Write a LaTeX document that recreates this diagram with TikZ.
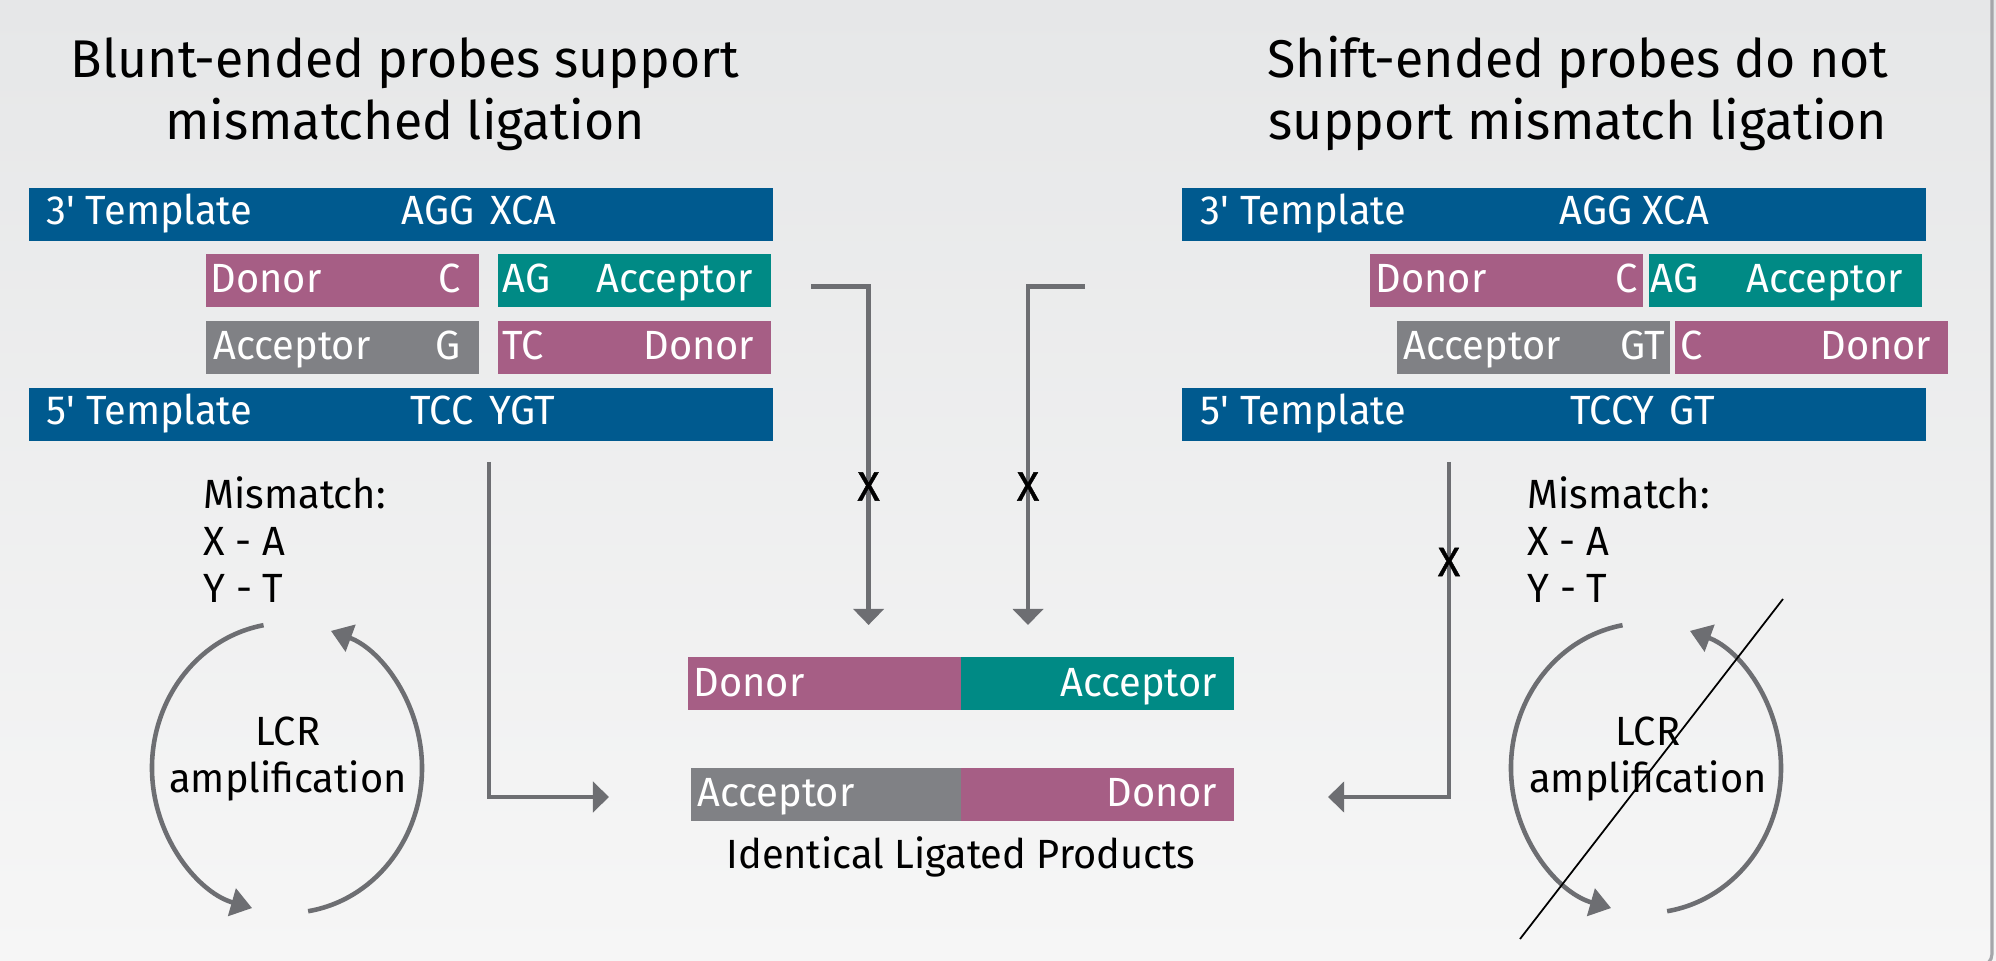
\documentclass[tikz,border=0pt]{standalone}
\usepackage{fontspec}
\setmainfont[FakeStretch=0.975]{Fira Sans}
\newfontfamily\heavyx[FakeBold=1]{Fira Sans}
\usetikzlibrary{arrows.meta}

\definecolor{tplblue}{RGB}{0,90,143}
\definecolor{donmag}{RGB}{166,94,133}
\definecolor{accteal}{RGB}{0,138,133}
\definecolor{accgray}{RGB}{128,129,133}
\definecolor{arrgray}{RGB}{109,110,114}
\definecolor{bgtop}{RGB}{230,231,232}
\definecolor{bgbot}{RGB}{246,246,246}
\definecolor{framegray}{RGB}{165,166,170}

\newcommand{\q}{\textquotesingle}

\begin{document}
\begin{tikzpicture}[x=0.01cm,y=-0.01cm,
  bar/.style={rectangle,inner sep=0pt,minimum height=0.53cm,anchor=west},
  lbl/.style={text=white,inner sep=0pt,font=\fontsize{11.6}{14}\selectfont},
  txt/.style={inner sep=0pt,font=\fontsize{11.6}{13.5}\selectfont},
  ttl/.style={inner sep=0pt,align=center,font=\fontsize{15.1}{17.9}\selectfont},
  flow/.style={arrgray,line width=1.28pt,-{Triangle[length=0.16cm,width=0.3cm]}},
  cyc/.style={arrgray,line width=1.3pt,-{Triangle[length=0.21cm,width=0.28cm]}},
  xmark/.style={inner sep=0pt,font=\heavyx\fontsize{11.6}{14}\selectfont}]

\useasboundingbox (0,0) rectangle (1996,961);
\shade[top color=bgtop,bottom color=bgbot] (0,0) rectangle (1996,961);
\draw[framegray,line width=0.9pt,rounded corners=0.12cm] (1992,-10) -- (1992,966) -- (1800,966);

\node[ttl,anchor=base] (h0) at (405,140) {Blunt-ended probes support\\mismatched ligation};
\node[ttl,anchor=base] (h1) at (1578,140) {Shift-ended probes do not\\support mismatch ligation};

\node[bar,fill=tplblue,minimum width=7.44cm] (b0) at (28,214.5) {};
\node[bar,fill=donmag,minimum width=2.73cm] (b1) at (205,280.5) {};
\node[bar,fill=accteal,minimum width=2.73cm] (b2) at (497,280.5) {};
\node[bar,fill=accgray,minimum width=2.73cm] (b3) at (205,347.5) {};
\node[bar,fill=donmag,minimum width=2.73cm] (b4) at (497,347.5) {};
\node[bar,fill=tplblue,minimum width=7.44cm] (b5) at (28,414.5) {};

\node[lbl,anchor=base west] (b0a) at (46,225) {3\q{} Template};
\node[lbl,anchor=base west] (b0b) at (401,225) {AGG\hspace{0.16cm}XCA};
\node[lbl,anchor=base west] (b1a) at (210,293) {Donor};
\node[lbl,anchor=base east] (b1b) at (461,293) {C};
\node[lbl,anchor=base west] (b2a) at (502,293) {AG};
\node[lbl,anchor=base east] (b2b) at (754,293) {Acceptor};
\node[lbl,anchor=base west] (b3a) at (213,360) {Acceptor};
\node[lbl,anchor=base east] (b3b) at (461,360) {G};
\node[lbl,anchor=base west] (b4a) at (502,360) {TC};
\node[lbl,anchor=base east] (b4b) at (755,360) {Donor};
\node[lbl,anchor=base west] (b5a) at (46,425) {5\q{} Template};
\node[lbl,anchor=base west] (b5b) at (410,425) {TCC\hspace{0.16cm}YGT};

\node[bar,fill=tplblue,minimum width=7.44cm] (s0) at (1181,214.5) {};
\node[bar,fill=donmag,minimum width=2.73cm] (s1) at (1369,280.5) {};
\node[bar,fill=accteal,minimum width=2.73cm] (s2) at (1648,280.5) {};
\node[bar,fill=accgray,minimum width=2.73cm] (s3) at (1396,347.5) {};
\node[bar,fill=donmag,minimum width=2.73cm] (s4) at (1674,347.5) {};
\node[bar,fill=tplblue,minimum width=7.44cm] (s5) at (1181,414.5) {};

\node[lbl,anchor=base west] (s0a) at (1200,225) {3\q{} Template};
\node[lbl,anchor=base west] (s0b) at (1559,225) {AGG XCA};
\node[lbl,anchor=base west] (s1a) at (1375,293) {Donor};
\node[lbl,anchor=base east] (s1b) at (1638,293) {C};
\node[lbl,anchor=base west] (s2a) at (1650,293) {AG};
\node[lbl,anchor=base east] (s2b) at (1904,293) {Acceptor};
\node[lbl,anchor=base west] (s3a) at (1403,360) {Acceptor};
\node[lbl,anchor=base east] (s3b) at (1666,360) {GT};
\node[lbl,anchor=base west] (s4a) at (1680,360) {C};
\node[lbl,anchor=base east] (s4b) at (1932,360) {Donor};
\node[lbl,anchor=base west] (s5a) at (1200,425) {5\q{} Template};
\node[lbl,anchor=base west] (s5b) at (1570,425) {TCCY\hspace{0.15cm}GT};

\node[bar,fill=donmag,minimum width=2.73cm] (p0) at (687,683.5) {};
\node[bar,fill=accteal,minimum width=2.73cm] (p1) at (960,683.5) {};
\node[bar,fill=accgray,minimum width=2.7cm] (p2) at (690,794.5) {};
\node[bar,fill=donmag,minimum width=2.73cm] (p3) at (960,794.5) {};
\node[lbl,anchor=base west] (p0a) at (693,696) {Donor};
\node[lbl,anchor=base east] (p1a) at (1218,696) {Acceptor};
\node[lbl,anchor=base west] (p2a) at (697,807) {Acceptor};
\node[lbl,anchor=base east] (p3a) at (1218,807) {Donor};
\node[txt,anchor=base] (prod) at (961,868) {Identical Ligated Products};

\coordinate (a1) at (811,286.5);
\coordinate (a2) at (868.6,625);
\coordinate (a3) at (1085,286.5);
\coordinate (a4) at (1028,625);
\coordinate (a5) at (489,462);
\coordinate (a6) at (609,797);
\coordinate (a7) at (1449,462);
\coordinate (a8) at (1328,797);
\draw[flow] (a1) -| (a2);
\draw[flow] (a3) -| (a4);
\draw[flow] (a5) |- (a6);
\draw[flow] (a7) |- (a8);

\node[xmark] (x0) at (868.6,486.5) {X};
\node[xmark] (x1) at (1028,486.5) {X};
\node[xmark] (x2) at (1449,562) {X};

\node[txt,anchor=base west,align=left] (m0) at (203,603) {Mismatch:\\X - A\\Y - T};
\node[txt,anchor=base west,align=left] (m1) at (1527,603) {Mismatch:\\X - A\\Y - T};

\coordinate (c0) at (287,768);
\coordinate (c1) at (1646,768);
\draw[cyc] ([shift={(-100:135 and 145)}]c0) arc[start angle=-100,end angle=-255,x radius=135,y radius=145];
\draw[cyc] ([shift={(81:135 and 145)}]c0) arc[start angle=81,end angle=-71,x radius=135,y radius=145];
\draw[cyc] ([shift={(-100:135 and 145)}]c1) arc[start angle=-100,end angle=-255,x radius=135,y radius=145];
\draw[cyc] ([shift={(81:135 and 145)}]c1) arc[start angle=81,end angle=-71,x radius=135,y radius=145];
\node[txt,anchor=base,align=center] (l0) at (288,793) {LCR\\amplification};
\node[txt,anchor=base,align=center] (l1) at (1648,793) {LCR\\amplification};

\coordinate (k0) at (1783,599);
\coordinate (k1) at (1520,939);
\draw[line width=0.5pt] (k0) -- (k1);
\end{tikzpicture}
\end{document}
